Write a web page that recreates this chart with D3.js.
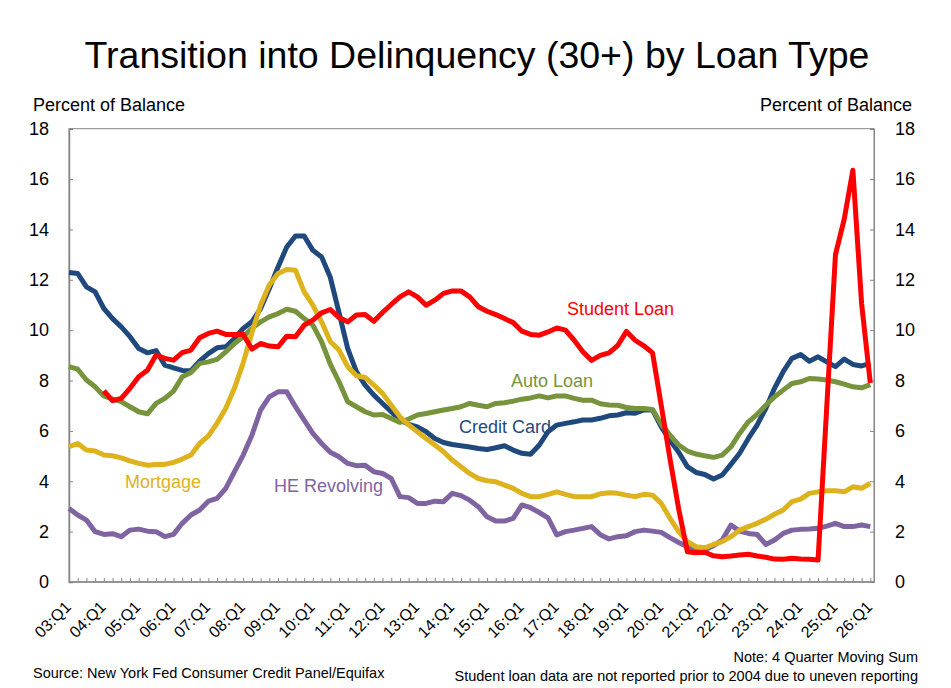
<!DOCTYPE html>
<html>
<head>
<meta charset="utf-8">
<script src="https://cdn.jsdelivr.net/npm/d3@7"></script>
<style>
  body { margin: 0; background: #fff; }
  svg { display: block; font-family: "Liberation Sans", Arial, sans-serif; }
</style>
</head>
<body>
<div id="chart"></div>
<script>
// ── DONNÉES ───────────────────────────────────────────────────────────────
// years shown on the category axis (one label every 4 quarters)
const yearLabels = ['03','04','05','06','07','08','09','10','11','12','13','14',
                    '15','16','17','18','19','20','21','22','23','24','25','26'];
const quarters = [];
yearLabels.forEach((y, k) => {
  ['Q1','Q2','Q3','Q4'].forEach(q => {
    if (k < yearLabels.length - 1 || q === 'Q1') quarters.push(y + ':' + q);
  });
});
const tickLabels = yearLabels.map(y => y + ':Q1');

const creditCard = [
  12.29,12.25,11.72,11.52,10.86,10.46,10.13,9.74,9.27,9.10,9.19,8.61,8.50,8.40,8.39,8.77,
  9.07,9.30,9.34,9.67,10.07,10.33,10.86,11.65,12.51,13.30,13.74,13.74,13.17,12.91,12.10,10.70,
  9.27,8.35,7.82,7.42,7.09,6.76,6.43,6.26,6.16,5.97,5.70,5.54,5.46,5.41,5.36,5.30,
  5.26,5.33,5.41,5.24,5.11,5.07,5.44,5.97,6.23,6.30,6.36,6.43,6.43,6.50,6.60,6.63,
  6.72,6.70,6.83,6.83,6.16,5.63,5.15,4.58,4.35,4.27,4.09,4.25,4.67,5.11,5.70,6.23,
  6.89,7.69,8.35,8.88,9.03,8.77,8.94,8.74,8.55,8.85,8.64,8.58,8.68
];
const autoLoan = [
  8.55,8.45,8.02,7.75,7.39,7.26,7.16,6.96,6.76,6.68,7.09,7.29,7.58,8.15,8.32,8.68,
  8.74,8.84,9.14,9.47,9.74,10.07,10.33,10.53,10.66,10.83,10.75,10.46,10.20,9.54,8.65,7.95,
  7.16,6.96,6.76,6.63,6.65,6.49,6.34,6.47,6.63,6.69,6.76,6.83,6.89,6.96,7.09,7.02,
  6.96,7.09,7.12,7.18,7.26,7.31,7.39,7.31,7.39,7.39,7.29,7.22,7.22,7.08,7.03,7.02,
  6.93,6.89,6.89,6.85,6.26,5.83,5.44,5.20,5.08,5.01,4.95,5.04,5.37,5.90,6.36,6.65,
  7.02,7.35,7.62,7.88,7.95,8.08,8.06,8.02,7.95,7.86,7.75,7.71,7.84
];
const mortgage = [
  5.37,5.50,5.24,5.20,5.04,5.01,4.93,4.81,4.71,4.64,4.67,4.67,4.75,4.88,5.04,5.50,
  5.80,6.30,6.90,7.70,8.70,9.90,11.00,11.79,12.25,12.41,12.38,11.52,10.99,10.33,9.55,9.21,
  8.55,8.19,8.12,7.82,7.49,7.02,6.56,6.23,5.97,5.70,5.44,5.17,4.84,4.58,4.31,4.11,
  4.02,3.98,3.85,3.72,3.52,3.39,3.39,3.48,3.58,3.48,3.39,3.39,3.39,3.50,3.54,3.52,
  3.45,3.39,3.48,3.45,3.12,2.53,2.00,1.60,1.40,1.36,1.49,1.60,1.80,2.06,2.20,2.33,
  2.49,2.69,2.86,3.19,3.29,3.52,3.58,3.62,3.62,3.58,3.78,3.72,3.92
];
const heRevolving = [
  2.92,2.66,2.46,2.00,1.89,1.92,1.80,2.06,2.10,2.02,2.00,1.80,1.89,2.33,2.66,2.86,
  3.21,3.32,3.72,4.38,5.04,5.83,6.83,7.35,7.55,7.55,6.96,6.43,5.90,5.50,5.15,4.97,
  4.71,4.62,4.64,4.38,4.31,4.11,3.39,3.35,3.12,3.12,3.21,3.19,3.52,3.43,3.25,2.99,
  2.59,2.42,2.42,2.53,3.06,2.95,2.76,2.55,1.87,2.00,2.06,2.13,2.20,1.88,1.71,1.80,
  1.84,2.00,2.06,2.02,1.97,1.76,1.57,1.40,1.23,1.27,1.44,1.67,2.26,2.02,1.93,1.89,
  1.49,1.67,1.93,2.06,2.09,2.10,2.13,2.22,2.33,2.20,2.20,2.26,2.20
];
// not reported before 2004
const studentLoan = [
  null,null,null,null,7.59,7.20,7.29,7.69,8.15,8.41,9.01,8.88,8.81,9.11,9.21,9.70,
  9.87,9.96,9.83,9.83,9.83,9.25,9.47,9.37,9.34,9.76,9.74,10.20,10.40,10.69,10.82,10.50,
  10.33,10.60,10.62,10.35,10.70,11.02,11.32,11.52,11.32,10.99,11.19,11.46,11.56,11.56,11.32,10.93,
  10.75,10.62,10.46,10.30,9.96,9.83,9.80,9.93,10.09,10.00,9.60,9.14,8.80,9.00,9.10,9.39,
  9.95,9.60,9.38,9.10,7.00,4.90,2.90,1.20,1.16,1.18,1.04,1.00,1.03,1.07,1.10,1.03,
  0.98,0.91,0.90,0.94,0.91,0.90,0.87,6.95,13.00,14.40,16.35,11.06,7.90
];

const yTicks = [0, 2, 4, 6, 8, 10, 12, 14, 16, 18];

const series = [
  { name: 'HE Revolving', values: heRevolving, color: '#8064A2', lx: 274, ly: 492 },
  { name: 'Credit Card',  values: creditCard,  color: '#1F497D', lx: 459, ly: 433 },
  { name: 'Auto Loan',    values: autoLoan,    color: '#77933C', lx: 511, ly: 387 },
  { name: 'Mortgage',     values: mortgage,    color: '#DDB21C', lx: 125, ly: 488 },
  { name: 'Student Loan', values: studentLoan, color: '#FF0000', lx: 567, ly: 315 }
];

// ── GRAPHIQUE ─────────────────────────────────────────────────────────────
const W = 951, H = 688;
const M = { left: 69, right: 874, top: 128.7, bottom: 582 };
const axisColor = '#868686';

const svg = d3.select('#chart').append('svg').attr('width', W).attr('height', H);

const x = d3.scalePoint().domain(quarters).range([M.left, 870.3]);
const y = d3.scaleLinear().domain([0, 18]).range([M.bottom, M.top]);

// Titre
svg.append('text').attr('x', 477).attr('y', 68).attr('text-anchor', 'middle')
  .attr('font-size', '37.5px').attr('fill', '#000')
  .text('Transition into Delinquency (30+) by Loan Type');

svg.append('text').attr('x', 33).attr('y', 111).attr('font-size', '18px')
  .text('Percent of Balance');
svg.append('text').attr('x', 912).attr('y', 111).attr('font-size', '18px')
  .attr('text-anchor', 'end').text('Percent of Balance');

// Cadre
svg.append('rect').attr('x', M.left).attr('y', M.top)
  .attr('width', M.right - M.left).attr('height', M.bottom - M.top)
  .attr('fill', 'none').attr('stroke', axisColor).attr('stroke-width', 1);

// Axe Y gauche / droite (ticks vers l'intérieur)
const yLeft = d3.axisLeft(y).tickValues(yTicks).tickSize(-4).tickPadding(20);
const gL = svg.append('g').attr('transform', `translate(${M.left},0)`).call(yLeft);
const yRight = d3.axisRight(y).tickValues(yTicks).tickSize(-4).tickPadding(21);
const gR = svg.append('g').attr('transform', `translate(${M.right},0)`).call(yRight);
[gL, gR].forEach(g => {
  g.select('.domain').attr('stroke', axisColor).attr('stroke-width', 1.5);
  g.selectAll('.tick line').attr('stroke', axisColor);
  g.selectAll('.tick text').attr('font-size', '18px').attr('fill', '#000')
    .attr('font-family', '"Liberation Sans", Arial, sans-serif');
});
gR.select('.domain').attr('stroke-width', 1);

// Axe X : petits ticks chaque trimestre, étiquettes tous les Q1
const xAxis = d3.axisBottom(x).tickSize(-4).tickFormat('');
const gX = svg.append('g').attr('transform', `translate(0,${M.bottom})`).call(xAxis);
gX.select('.domain').attr('stroke', axisColor).attr('stroke-width', 1.5)
  .attr('d', `M${M.left},0H${M.right}`);
gX.selectAll('.tick line').attr('stroke', axisColor);

svg.append('g').selectAll('text').data(tickLabels).enter().append('text')
  .attr('transform', d => `translate(${x(d) - 1},${M.bottom + 22}) rotate(-45)`)
  .attr('text-anchor', 'end').attr('font-size', '16px').attr('fill', '#000')
  .attr('dy', '0.35em')
  .text(d => d);

// Courbes
const line = d3.line()
  .defined(d => d != null)
  .x((d, i) => x(quarters[i]))
  .y(d => y(d));

series.forEach(s => {
  svg.append('path').datum(s.values)
    .attr('d', line).attr('fill', 'none')
    .attr('stroke', s.color).attr('stroke-width', 5)
    .attr('stroke-linejoin', 'round');
  svg.append('text').attr('x', s.lx).attr('y', s.ly)
    .attr('font-size', '18px').attr('fill', s.color).text(s.name);
});

// Notes
svg.append('text').attr('x', 33).attr('y', 678).attr('font-size', '14.5px')
  .text('Source: New York Fed Consumer Credit Panel/Equifax');
svg.append('text').attr('x', 918).attr('y', 662).attr('font-size', '14.5px')
  .attr('text-anchor', 'end').text('Note: 4 Quarter Moving Sum');
svg.append('text').attr('x', 918).attr('y', 681).attr('font-size', '14.5px')
  .attr('text-anchor', 'end')
  .text('Student loan data are not reported prior to 2004 due to uneven reporting');
</script>
</body>
</html>
